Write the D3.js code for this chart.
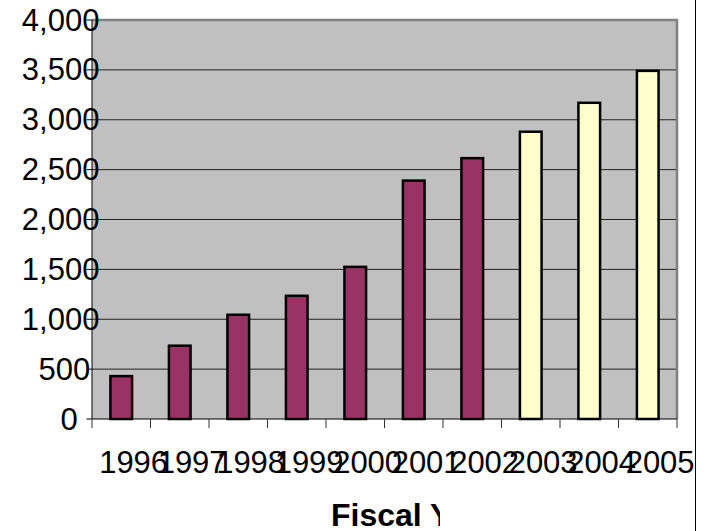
<!DOCTYPE html>
<html>
<head>
<meta charset="utf-8">
<script src="https://cdn.jsdelivr.net/npm/d3@7"></script>
<style>
  body { margin: 0; background: #fff; }
  svg { display: block; font-family: "Liberation Sans", Arial, sans-serif; }
</style>
</head>
<body>
<svg id="chart" width="713" height="531"></svg>
<script>
// data
const years = ["1996", "1997", "1998", "1999", "2000", "2001", "2002", "2003", "2004", "2005"];
const values = [430, 735, 1045, 1235, 1525, 2390, 2615, 2880, 3170, 3490];
const projected = [false, false, false, false, false, false, false, true, true, true];
const yTicks = [0, 500, 1000, 1500, 2000, 2500, 3000, 3500, 4000];
const xTitle = "Fiscal Year";

const svg = d3.select("#chart");
const plot = { left: 92, right: 677, top: 20, bottom: 419 };

const x = d3.scaleBand()
    .domain(years)
    .range([plot.left, plot.right])
    .paddingInner(0.63)
    .paddingOuter(0.315);
const y = d3.scaleLinear().domain([0, 4000]).range([plot.bottom, plot.top]);
const fmt = d3.format(",");
const gap = (x.step() - x.bandwidth()) / 2;

// plot background
svg.append("rect")
    .attr("x", plot.left)
    .attr("y", plot.top)
    .attr("width", plot.right - plot.left)
    .attr("height", plot.bottom - plot.top)
    .attr("fill", "#c0c0c0");

// gridlines
svg.selectAll("line.grid")
    .data(yTicks.slice(1, -1))
    .enter()
    .append("line")
    .attr("class", "grid")
    .attr("x1", plot.left)
    .attr("x2", plot.right)
    .attr("y1", (d) => y(d))
    .attr("y2", (d) => y(d))
    .attr("stroke", "#222")
    .attr("stroke-width", 1);

// top and right border of plot area
svg.append("path")
    .attr("d", `M${plot.left},${y(4000)}H${plot.right}V${plot.bottom}`)
    .attr("fill", "none")
    .attr("stroke", "#808080")
    .attr("stroke-width", 2.5);

// bars
svg.selectAll("rect.bar")
    .data(years)
    .enter()
    .append("rect")
    .attr("class", "bar")
    .attr("x", (d) => x(d))
    .attr("width", x.bandwidth())
    .attr("y", (d, i) => y(values[i]))
    .attr("height", (d, i) => y(0) - y(values[i]))
    .attr("fill", (d, i) => (projected[i] ? "#ffffcc" : "#993366"))
    .attr("stroke", "#000")
    .attr("stroke-width", 2.5);

// y axis
svg.append("line")
    .attr("x1", plot.left).attr("x2", plot.left)
    .attr("y1", y(4000)).attr("y2", y(0))
    .attr("stroke", "#000");
svg.selectAll("line.ytick")
    .data(yTicks)
    .enter()
    .append("line")
    .attr("class", "ytick")
    .attr("x1", plot.left - 5.5)
    .attr("x2", plot.left)
    .attr("y1", (d) => y(d))
    .attr("y2", (d) => y(d))
    .attr("stroke", "#000");

// x axis
svg.append("line")
    .attr("x1", plot.left).attr("x2", plot.right)
    .attr("y1", y(0)).attr("y2", y(0))
    .attr("stroke", "#000");
const bounds = years.map((d) => x(d) - gap).concat([x(years[years.length - 1]) + x.bandwidth() + gap]);
svg.selectAll("line.xtick")
    .data(bounds)
    .enter()
    .append("line")
    .attr("class", "xtick")
    .attr("x1", (d) => d)
    .attr("x2", (d) => d)
    .attr("y1", y(0))
    .attr("y2", y(0) + 9)
    .attr("stroke", "#333");

// y tick labels (they spill onto the axis like in the original)
svg.selectAll("text.ylab")
    .data(yTicks)
    .enter()
    .append("text")
    .attr("class", "ylab")
    .attr("y", (d) => y(d) + 10.5)
    .style("font-size", "31px")
    .attr("fill", "#000")
    .text((d) => fmt(d))
    .each(function () {
        const w = this.getComputedTextLength();
        d3.select(this).attr("x", 71.6 - w / 1.56);
    });

// x tick labels (overlapping)
svg.selectAll("text.xlab")
    .data(years)
    .enter()
    .append("text")
    .attr("class", "xlab")
    .attr("y", 472.5)
    .style("font-size", "31px")
    .attr("fill", "#000")
    .text((d) => d)
    .each(function (d) {
        const w = this.getComputedTextLength();
        const c = x(d) + x.bandwidth() / 2;
        d3.select(this).attr("x", c - w / 3.12);
    });

// axis title, clipped
svg.append("clipPath")
    .attr("id", "titleClip")
    .append("rect")
    .attr("x", 0).attr("y", 480)
    .attr("width", 440).attr("height", 51);
svg.append("text")
    .attr("x", 331)
    .attr("y", 526)
    .attr("clip-path", "url(#titleClip)")
    .style("font-size", "32px")
    .style("font-weight", "bold")
    .attr("fill", "#000")
    .text(xTitle);

// frame line on the right
svg.append("line")
    .attr("x1", 695.5).attr("x2", 695.5)
    .attr("y1", 0).attr("y2", 531)
    .attr("stroke", "#000");
</script>
</body>
</html>
